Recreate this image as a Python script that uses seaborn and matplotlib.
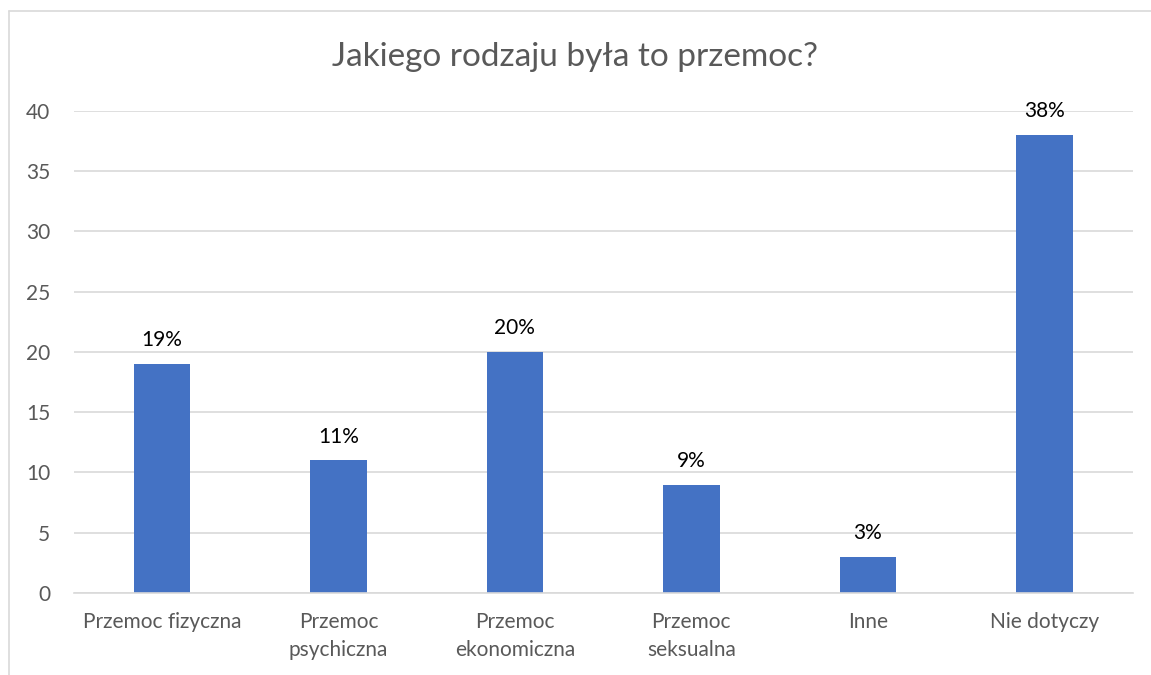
import matplotlib
matplotlib.use('Agg')
import matplotlib.pyplot as plt
from matplotlib.lines import Line2D
import pandas as pd
import seaborn as sns

categories = ['Przemoc fizyczna', 'Przemoc\npsychiczna', 'Przemoc\nekonomiczna',
              'Przemoc\nseksualna', 'Inne', 'Nie dotyczy']
values = [19, 11, 20, 9, 3, 38]
labels = ['19%', '11%', '20%', '9%', '3%', '38%']
yticks = [0, 5, 10, 15, 20, 25, 30, 35, 40]

df = pd.DataFrame({'kategoria': categories, 'wartosc': values})

sns.set_style('white')
plt.rcParams['font.family'] = ['Lato', 'DejaVu Sans']

fig = plt.figure(figsize=(11.51, 6.75), dpi=100)
ax = fig.add_axes([0.064, 0.1215, 0.920, 0.7141])

sns.barplot(data=df, x='kategoria', y='wartosc', color='#4472C4', width=0.32,
            saturation=1, linewidth=0, ax=ax)

ax.set_ylim(0, 40)
ax.set_xlim(-0.5, 5.5)
ax.set_yticks(yticks)
ax.set_yticklabels([str(t) for t in yticks])
ax.yaxis.grid(True, color='#D9D9D9', linewidth=1.2)
ax.set_axisbelow(True)
for s in ['top', 'right', 'left']:
    ax.spines[s].set_visible(False)
ax.spines['bottom'].set_color('#D9D9D9')
ax.spines['bottom'].set_linewidth(1.2)
ax.tick_params(axis='both', length=0, labelsize=15, labelcolor='#595959')
ax.tick_params(axis='y', pad=17)
ax.tick_params(axis='x', pad=14)
for t in ax.get_xticklabels():
    t.set_linespacing(1.45)
ax.set_xlabel('')
ax.set_ylabel('')

for i, v in enumerate(values):
    ax.annotate(labels[i], (i, v), xytext=(0, 10), textcoords='offset points',
                ha='center', va='bottom', fontsize=15, color='#000000')

fig.text(0.5, 0.915, 'Jakiego rodzaju była to przemoc?', ha='center', va='center',
         fontsize=24, color='#595959')

# frame of the chart area (only left and top visible in the crop)
fig.add_artist(Line2D([0.0075, 0.0075], [0.0, 0.984], color='#D9D9D9', linewidth=1.2,
                      transform=fig.transFigure))
fig.add_artist(Line2D([0.0075, 1.0], [0.984, 0.984], color='#D9D9D9', linewidth=1.2,
                      transform=fig.transFigure))

fig.savefig('out.png', dpi=100)
